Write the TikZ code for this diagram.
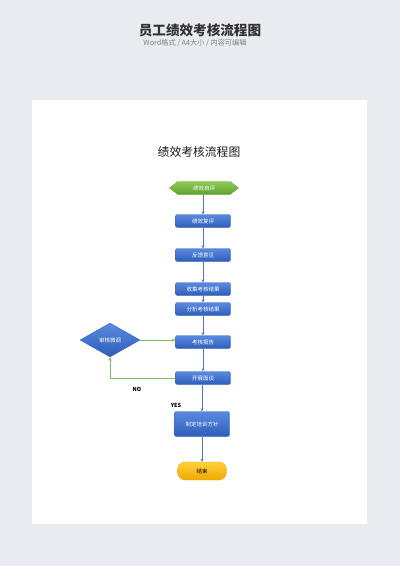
\documentclass[tikz,border=0pt]{standalone}
\usepackage{fontspec}
\setmainfont{Noto Sans CJK SC}
\usepackage{xcolor}
\usepackage{tikz}
\usetikzlibrary{shapes, shapes.symbols, shapes.geometric, arrows.meta}

\definecolor{bgcol}{HTML}{E9EBF1}
\definecolor{boxtop}{HTML}{5A8AE0}
\definecolor{boxbot}{HTML}{2E5DB8}
\definecolor{boxline}{HTML}{3A66BE}
\definecolor{gtop}{HTML}{8FCB55}
\definecolor{gbot}{HTML}{5FA12F}
\definecolor{ytop}{HTML}{FFD23A}
\definecolor{ybot}{HTML}{F0A800}
\definecolor{bluearr}{HTML}{4A78C8}
\definecolor{greenarr}{HTML}{82BE5A}

\begin{document}
\begin{tikzpicture}[x=1pt,y=-1pt]
            \tikzstyle{stepbox}=[rectangle, rounded corners=2pt, draw=boxline, top color=boxtop, bottom color=boxbot, text=white, minimum width=55pt, minimum height=13pt, inner sep=1pt, font=\fontsize{5.5}{6}\selectfont]
            \tikzstyle{startbox}=[signal, signal to=west and east, signal pointer angle=75, draw=gbot, top color=gtop, bottom color=gbot, text=white, minimum width=69pt, minimum height=13pt, inner sep=1pt, font=\fontsize{5.5}{6}\selectfont]
            \tikzstyle{endbox}=[rectangle, rounded corners=8pt, draw=ybot, top color=ytop, bottom color=ybot, text=black, minimum width=49pt, minimum height=18pt, inner sep=1pt, font=\fontsize{5.5}{6}\selectfont]
            \tikzstyle{checkbox}=[diamond, aspect=1.75, draw=boxline, top color=boxtop, bottom color=boxbot, text=white, minimum width=60pt, minimum height=34pt, inner sep=0pt, font=\fontsize{5.5}{6}\selectfont]
            \tikzstyle{flow}=[draw=bluearr, line width=0.6pt, -{Stealth[length=3pt,width=3pt]}]
            \tikzstyle{back}=[draw=greenarr, line width=0.8pt, -{Stealth[length=3.5pt,width=3.5pt]}]
            \tikzstyle{answer}=[font=\fontsize{5.5}{6}\selectfont\bfseries, text=black]

            % background and page
            \fill[bgcol] (0,0) rectangle (400,566);
            \fill[black!8] (34,102) rectangle (369,526);
            \fill[white] (32,100) rectangle (367,524);
            \useasboundingbox (0,0) rectangle (400,566);

            % headings
            \node (heading) at (200,30) {\fontsize{13.6}{14}\selectfont\bfseries\color{black!80}员工绩效考核流程图};
            \node (subheading) at (195,43) {\fontsize{7.2}{8}\selectfont\color{black!50}Word格式 / A4大小 / 内容可编辑};
            \node (chart) at (199,152) {\fontsize{11.8}{13}\selectfont\color{black!90}绩效考核流程图};

            % steps
            \node[startbox] (selfeval) at (204,188) {绩效自评};
            \node[stepbox] (review) at (203,221) {绩效复评};
            \node[stepbox] (feedback) at (203,255) {反馈意见};
            \node[stepbox] (collect) at (203,289) {收集考核结果};
            \node[stepbox] (analyze) at (203,309) {分析考核结果};
            \node[stepbox] (report) at (203,342) {考核报告};
            \node[stepbox] (interview) at (203,378) {开展面谈};
            \node[stepbox, minimum height=25pt] (plan) at (202,424) {制定培训方针};
            \node[endbox] (finish) at (202,471) {结束};
            \node[checkbox] (adjust) at (110,340) {审核微调};
            \coordinate (corner) at (adjust.south |- interview.west);

            % connectors
            \draw[flow] (selfeval.south -| review.north) -- (review);
            \draw[flow] (review) -- (feedback);
            \draw[flow] (feedback) -- (collect);
            \draw[flow] (collect) -- (analyze);
            \draw[flow] (analyze) -- (report);
            \draw[flow] (report) -- (interview);
            \draw[flow] (interview.south -| plan.north) -- (plan);
            \draw[flow] (plan) -- (finish);
            \draw[back] (adjust.east) -- (adjust.east -| report.west);
            \draw[back] (interview.west) -- (corner) -- (adjust.south);

            \node[answer] (no) at (137,389) {NO};
            \node[answer] (yes) at (176,405) {YES};
\end{tikzpicture}
\end{document}
